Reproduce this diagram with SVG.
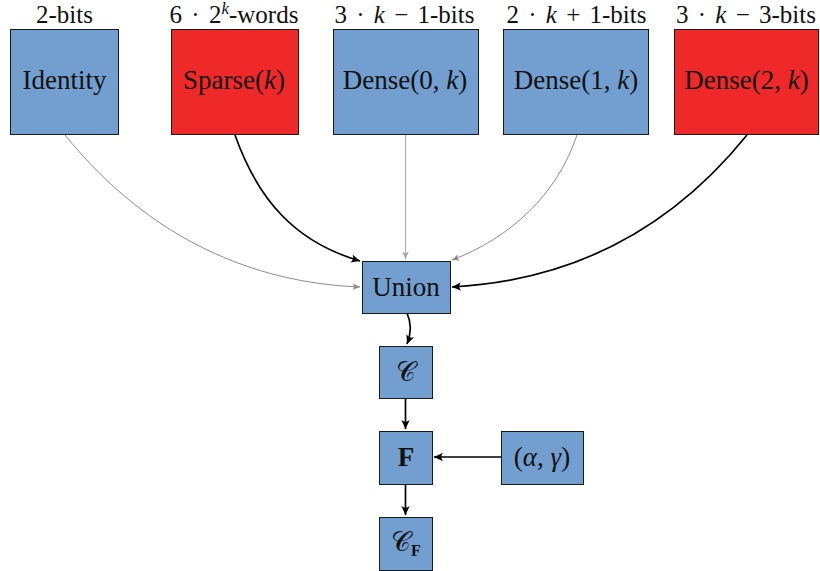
<svg xmlns="http://www.w3.org/2000/svg" width="820" height="571" viewBox="0 0 820 571">
  <style>
    .box { stroke: #1a1a1a; stroke-width: 1; }
    .blue { fill: #729fcf; }
    .red { fill: #ef2929; }
    text { font-family: "Liberation Serif", "DejaVu Serif", serif; fill: #111; text-anchor: middle; }
    .lbl { font-size: 27px; }
    .top { font-size: 25px; word-spacing: 3px; }
    .it { font-style: italic; }
    .bf { font-weight: bold; }
    .thick { fill: none; stroke: #000; stroke-width: 1.7; }
    .thin { fill: none; stroke: #8c8c8c; stroke-width: 1; }
    .light { fill: none; stroke: #b0b0b0; stroke-width: 1.2; }
  </style>
  <defs>
    <marker id="ahBlack" markerUnits="userSpaceOnUse" markerWidth="14" markerHeight="12" refX="0" refY="0" viewBox="-10 -6 12 12" orient="auto" overflow="visible">
      <path d="M0,0 L-9,-4.2 Q-5.5,0 -9,4.2 Z" fill="#000"/>
    </marker>
    <marker id="ahGrey" markerUnits="userSpaceOnUse" markerWidth="12" markerHeight="10" refX="0" refY="0" viewBox="-9 -5 10 10" orient="auto" overflow="visible">
      <path d="M0,0 L-7.5,-3.4 Q-4.6,0 -7.5,3.4 Z" fill="#8c8c8c"/>
    </marker>
    <marker id="ahLight" markerUnits="userSpaceOnUse" markerWidth="12" markerHeight="10" refX="0" refY="0" viewBox="-9 -5 10 10" orient="auto" overflow="visible">
      <path d="M0,0 L-7.5,-3.4 Q-4.6,0 -7.5,3.4 Z" fill="#a8a8a8"/>
    </marker>
  </defs>

  <!-- connectors -->
  <g id="connectors">
    <path class="thin" d="M65,135 C150,240 255,283 360,287" marker-end="url(#ahGrey)"/>
    <path class="thick" d="M235,135 C258,200 295,242 360,261" marker-end="url(#ahBlack)"/>
    <path class="light" d="M405.5,135 L405.5,259" marker-end="url(#ahLight)"/>
    <path class="thin" d="M577,135 C557,195 510,238 452,260" marker-end="url(#ahGrey)"/>
    <path class="thick" d="M747,135 C680,218 585,280 452,287" marker-end="url(#ahBlack)"/>
    <path class="thick" d="M407,313 C412,324 411,334 407,344" marker-end="url(#ahBlack)"/>
    <path class="thick" d="M405.5,398 L405.5,429" marker-end="url(#ahBlack)"/>
    <path class="thick" d="M501,457 L434,457" marker-end="url(#ahBlack)"/>
    <path class="thick" d="M405.5,484 L405.5,515" marker-end="url(#ahBlack)"/>
  </g>

  <!-- cost labels above the top row -->
  <g id="costs">
    <text class="top" x="64.5" y="22.5">2-bits</text>
    <text class="top" x="234" y="22.5">6 · 2<tspan class="it" font-size="17" dy="-9">k</tspan><tspan dy="9">-words</tspan></text>
    <text class="top" x="404.5" y="22.5">3 · <tspan class="it">k</tspan> − 1-bits</text>
    <text class="top" x="576.5" y="22.5">2 · <tspan class="it">k</tspan> + 1-bits</text>
    <text class="top" x="746" y="22.5">3 · <tspan class="it">k</tspan> − 3-bits</text>
  </g>

  <g id="identity">
    <rect class="box blue" x="10.5" y="29.5" width="108" height="105"/>
    <text class="lbl" x="64.5" y="89">Identity</text>
  </g>
  <g id="sparse">
    <rect class="box red" x="171.5" y="29.5" width="127" height="105"/>
    <text class="lbl" x="234" y="89">Sparse(<tspan class="it">k</tspan>)</text>
  </g>
  <g id="dense0">
    <rect class="box blue" x="333.5" y="29.5" width="145" height="105"/>
    <text class="lbl" x="405" y="89">Dense(0, <tspan class="it">k</tspan>)</text>
  </g>
  <g id="dense1">
    <rect class="box blue" x="503.5" y="29.5" width="145" height="105"/>
    <text class="lbl" x="576" y="89">Dense(1, <tspan class="it">k</tspan>)</text>
  </g>
  <g id="dense2">
    <rect class="box red" x="674.5" y="29.5" width="144" height="105"/>
    <text class="lbl" x="746.5" y="89">Dense(2, <tspan class="it">k</tspan>)</text>
  </g>

  <g id="union">
    <rect class="box blue" x="362.5" y="261.5" width="88" height="52"/>
    <text class="lbl" x="406" y="296">Union</text>
  </g>
  <g id="code">
    <rect class="box blue" x="379.5" y="346.5" width="53" height="52"/>
    <text class="lbl" x="406" y="381" font-size="24">𝒞</text>
  </g>
  <g id="filter">
    <rect class="box blue" x="379.5" y="431.5" width="53" height="53"/>
    <text class="lbl bf" x="406" y="466">F</text>
  </g>
  <g id="params">
    <rect class="box blue" x="501.5" y="431.5" width="82" height="53"/>
    <text class="lbl" x="542" y="466">(<tspan class="it">α</tspan>, <tspan class="it">γ</tspan>)</text>
  </g>
  <g id="filtered-code">
    <rect class="box blue" x="379.5" y="517.5" width="53" height="53"/>
    <text class="lbl" x="406" y="551" font-size="24">𝒞<tspan class="bf" font-size="16" dy="5">F</tspan></text>
  </g>
</svg>
